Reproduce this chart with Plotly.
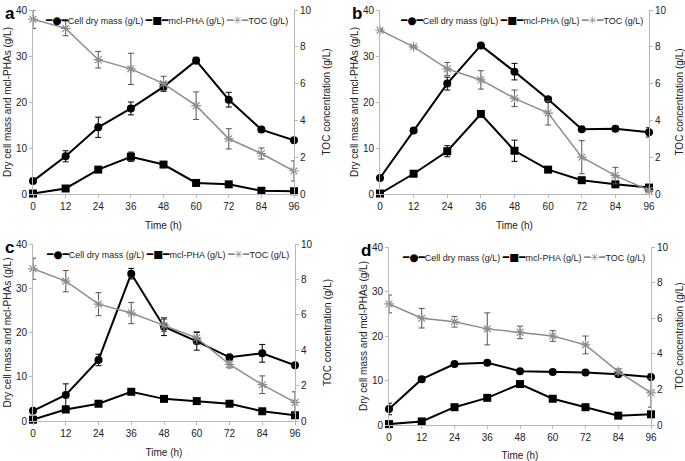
import plotly.graph_objects as go

time_h = [0, 12, 24, 36, 48, 60, 72, 84, 96]
panel_labels = ["a", "b", "c", "d"]

# Panel a
cdm_a = [2.8, 8.2, 14.5, 18.6, 23.3, 29.0, 20.5, 14.0, 11.7]
cdm_a_err = [0.4, 1.2, 2.2, 1.4, 1.0, 0.7, 1.6, 0.5, 0.5]
pha_a = [0.1, 1.2, 5.3, 8.1, 6.4, 2.4, 2.1, 0.7, 0.6]
pha_a_err = [0.2, 0.3, 0.4, 1.0, 0.4, 0.4, 0.6, 0.3, 0.3]
toc_a = [9.5, 9.0, 7.3, 6.8, 6.0, 4.8, 3.0, 2.2, 1.25]
toc_a_err = [0.5, 0.4, 0.45, 0.85, 0.4, 0.75, 0.55, 0.3, 0.55]

# Panel b
cdm_b = [3.5, 13.8, 24.0, 32.3, 26.6, 20.6, 14.1, 14.2, 13.4]
cdm_b_err = [0.3, 0.4, 1.4, 0.4, 1.8, 0.5, 0.4, 0.5, 1.0]
pha_b = [0.1, 4.4, 9.3, 17.4, 9.4, 5.3, 3.0, 2.1, 1.4]
pha_b_err = [0.2, 0.4, 1.2, 0.6, 2.3, 0.4, 0.3, 0.3, 0.3]
toc_b = [8.9, 8.0, 6.8, 6.2, 5.2, 4.4, 2.0, 1.0, 0.2]
toc_b_err = [0.05, 0.05, 0.35, 0.5, 0.45, 0.65, 0.9, 0.45, 0.1]

# Panel c
cdm_c = [2.3, 5.9, 13.8, 33.3, 21.3, 18.0, 14.4, 15.3, 12.6]
cdm_c_err = [0.3, 2.5, 1.3, 1.2, 2.0, 2.0, 0.5, 2.0, 0.5]
pha_c = [0.3, 2.6, 3.9, 6.6, 5.0, 4.5, 3.9, 2.2, 1.3]
pha_c_err = [0.2, 0.3, 0.3, 0.4, 0.3, 0.3, 0.3, 0.3, 0.3]
toc_c = [8.6, 7.9, 6.6, 6.1, 5.4, 4.7, 3.2, 2.05, 1.05]
toc_c_err = [0.6, 0.6, 0.65, 0.6, 0.35, 0.35, 0.2, 0.5, 0.6]

# Panel d
cdm_d = [3.6, 10.3, 13.7, 14.0, 12.1, 11.9, 11.8, 11.4, 10.8]
cdm_d_err = [1.3, 0.6, 0.3, 0.3, 0.3, 0.3, 0.3, 0.4, 0.6]
pha_d = [0.2, 0.8, 4.0, 6.1, 9.2, 5.9, 4.0, 2.1, 2.4]
pha_d_err = [0.1, 0.2, 0.3, 0.3, 0.5, 0.3, 0.3, 0.3, 0.3]
toc_d = [6.8, 6.0, 5.8, 5.4, 5.2, 5.0, 4.5, 3.0, 1.8]
toc_d_err = [0.5, 0.55, 0.3, 0.9, 0.35, 0.3, 0.5, 0.15, 0.8]

x_ticks = [0, 12, 24, 36, 48, 60, 72, 84, 96]
left_ticks = [0, 10, 20, 30, 40]
right_ticks = [0, 2, 4, 6, 8, 10]

series_names = ["Cell dry mass (g/L)", "mcl-PHA (g/L)", "TOC (g/L)"]

cdm_all = [(cdm_a, cdm_a_err), (cdm_b, cdm_b_err), (cdm_c, cdm_c_err), (cdm_d, cdm_d_err)]
pha_all = [(pha_a, pha_a_err), (pha_b, pha_b_err), (pha_c, pha_c_err), (pha_d, pha_d_err)]
toc_all = [(toc_a, toc_a_err), (toc_b, toc_b_err), (toc_c, toc_c_err), (toc_d, toc_d_err)]

W, H = 685, 461
# plot areas in pixels: (left, right, top, bottom)
areas = [(33, 294, 10, 194), (380, 649, 10, 194), (33, 295, 244, 421), (389, 651, 247, 425)]

FONT = "Liberation Sans Narrow, Arial Narrow, Liberation Sans, Arial, sans-serif"
BLACK = "#000000"
GRAY = "#8c8c8c"
AXC = "#b8b8b8"
TXT = "#222222"

fig = go.Figure()
layout = dict(
    width=W, height=H, margin=dict(l=0, r=0, t=0, b=0),
    paper_bgcolor="white", plot_bgcolor="white",
    font=dict(family=FONT, size=10, color=TXT),
    showlegend=False,
)
annotations = []

SYM = "font-family:DejaVu Sans;font-size:10.5px;"
legend_text = (
    f"<span style='{SYM}color:#000'>━●━</span>" + series_names[0] + " "
    f"<span style='{SYM}color:#000'>━■━</span>" + series_names[1] + " "
    f"<span style='{SYM}color:#8c8c8c'>━✳━</span>" + series_names[2]
)

for i in range(4):
    n = i + 1
    xa = "x" if n == 1 else f"x{n}"
    ya = "y" if n == 1 else f"y{n}"
    yr = f"y{n + 4}"
    l, r, t, b = areas[i]
    dx = [l / W, r / W]
    dy = [1 - b / H, 1 - t / H]

    cdm, cdm_err = cdm_all[i]
    pha, pha_err = pha_all[i]
    toc, toc_err = toc_all[i]

    fig.add_trace(go.Scatter(
        x=time_h, y=toc, xaxis=xa, yaxis=yr, name=series_names[2],
        mode="lines+markers", line=dict(color=GRAY, width=1.5), cliponaxis=False,
        marker=dict(symbol="asterisk-open", size=8, color=GRAY, line=dict(color=GRAY, width=1.2)),
        error_y=dict(type="data", array=toc_err, color="#555555", thickness=1, width=3),
    ))
    fig.add_trace(go.Scatter(
        x=time_h, y=cdm, xaxis=xa, yaxis=ya, name=series_names[0],
        mode="lines+markers", line=dict(color=BLACK, width=2), cliponaxis=False,
        marker=dict(symbol="circle", size=8, color=BLACK),
        error_y=dict(type="data", array=cdm_err, color=BLACK, thickness=1, width=3),
    ))
    fig.add_trace(go.Scatter(
        x=time_h, y=pha, xaxis=xa, yaxis=ya, name=series_names[1],
        mode="lines+markers", line=dict(color=BLACK, width=2), cliponaxis=False,
        marker=dict(symbol="square", size=8, color=BLACK),
        error_y=dict(type="data", array=pha_err, color=BLACK, thickness=1, width=3),
    ))

    axis_common = dict(showgrid=False, zeroline=False, showline=True, linecolor=AXC, linewidth=1,
                       tickfont=dict(family=FONT, size=10, color=TXT), ticks="outside",
                       ticklen=3, tickcolor=AXC, automargin=False)
    layout["xaxis" if n == 1 else f"xaxis{n}"] = dict(
        axis_common, domain=dx, anchor=ya, range=[0, 96], tickvals=x_ticks,
        title=dict(text="Time (h)", font=dict(family=FONT, size=10, color=TXT), standoff=10),
    )
    layout["yaxis" if n == 1 else f"yaxis{n}"] = dict(
        axis_common, domain=dy, anchor=xa, range=[0, 40], tickvals=left_ticks,
        title=dict(text="Dry cell mass and mcl-PHAs (g/L)", font=dict(family=FONT, size=10, color=TXT), standoff=2),
    )
    layout[f"yaxis{n + 4}"] = dict(
        axis_common, domain=dy, anchor=xa, overlaying=ya, side="right", range=[0, 10],
        tickvals=right_ticks,
        title=dict(text="TOC concentration (g/L)", font=dict(family=FONT, size=10, color=TXT), standoff=12),
    )
    annotations.append(dict(
        text=legend_text, x=(r - 4) / W, y=1 - (t + 2) / H,
        xref="paper", yref="paper", xanchor="right", yanchor="top", showarrow=False,
        font=dict(family=FONT, size=9, color=TXT),
    ))
    annotations.append(dict(
        text=f"<b>{panel_labels[i]}</b>", x=(l - 30) / W, y=1 - (t - 8) / H,
        xref="paper", yref="paper", xanchor="left", yanchor="top", showarrow=False,
        font=dict(family="Liberation Sans, Arial, sans-serif", size=17, color=BLACK),
    ))

layout["annotations"] = annotations
fig.update_layout(**layout)
fig.write_html("out.html", config={"displayModeBar": False},
               post_script="document.body.style.margin='0';")
